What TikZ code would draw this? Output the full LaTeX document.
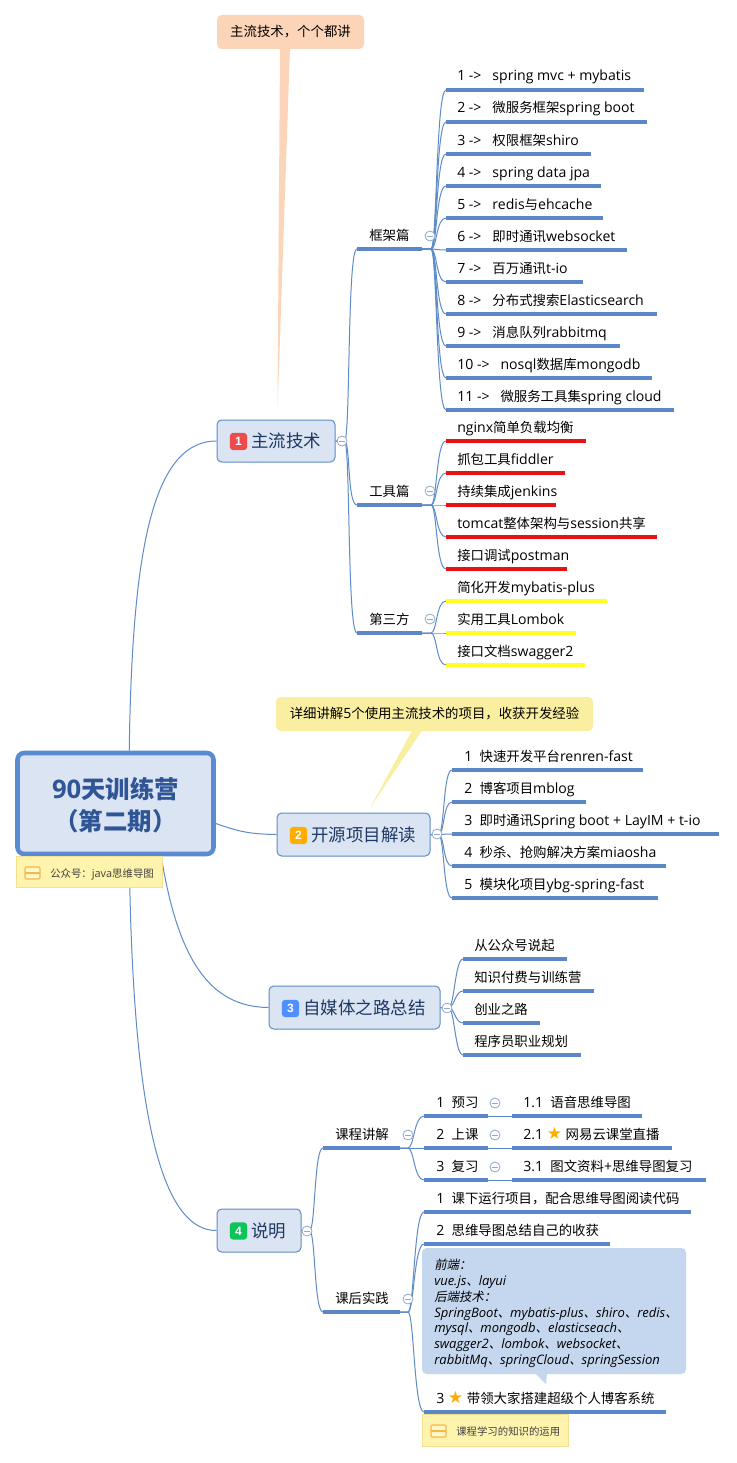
\documentclass[tikz,border=0pt]{standalone}
\usepackage{fontspec}
\usetikzlibrary{calc}
\setmainfont{Open Sans}[Scale=1.05]
\newfontfamily\cjkf{Noto Sans CJK SC}
\newfontfamily\slantcjk[FakeSlant=0.2]{Noto Sans CJK SC}
\newfontfamily\symf{DejaVu Sans}
\newfontfamily\numf{Liberation Sans}
\let\cjkcur\cjkf
% automatic switch to the CJK font for CJK characters (4095 is the boundary class)
\XeTeXinterchartokenstate=1
\newXeTeXintercharclass\cjkclass
\newcount\cjkcnt
\cjkcnt="4E00 \loop \XeTeXcharclass\cjkcnt=\cjkclass \advance\cjkcnt 1 \ifnum\cjkcnt<"A000 \repeat
\cjkcnt="3000 \loop \XeTeXcharclass\cjkcnt=\cjkclass \advance\cjkcnt 1 \ifnum\cjkcnt<"3040 \repeat
\cjkcnt="FF00 \loop \XeTeXcharclass\cjkcnt=\cjkclass \advance\cjkcnt 1 \ifnum\cjkcnt<"FFF0 \repeat
\XeTeXinterchartoks 0 \cjkclass = {\cjkcur}
\XeTeXinterchartoks 4095 \cjkclass = {\cjkcur}
\XeTeXinterchartoks \cjkclass 0 = {\rmfamily}
\XeTeXinterchartoks 4095 0 = {\rmfamily}
\newcommand\starmark{{\XeTeXinterchartokenstate=0 \color{staror}\symf\fontsize{12.8pt}{12pt}\selectfont ★}}
\newcommand\iconfont{\XeTeXinterchartokenstate=0 \numf\bfseries\fontsize{9pt}{10pt}\selectfont}
\newcommand\ag{\hspace*{8.2pt}}
\definecolor{ulblue}{HTML}{5B87C6}
\definecolor{connblue}{HTML}{5F8BC8}
\definecolor{boxfill}{HTML}{DAE4F2}
\definecolor{rootedge}{HTML}{5A8AD2}
\definecolor{rootink}{HTML}{2F5597}
\definecolor{topicink}{HTML}{1F3864}
\definecolor{peach}{HTML}{FCD5B8}
\definecolor{lemon}{HTML}{FAEEA0}
\definecolor{notefill}{HTML}{FFF4AE}
\definecolor{noteedge}{HTML}{F5E08F}
\definecolor{noteicon}{HTML}{F7B84B}
\definecolor{bubble}{HTML}{C5D7EE}
\definecolor{ulred}{HTML}{E81212}
\definecolor{ulyellow}{HTML}{FFFF24}
\definecolor{staror}{HTML}{FFAE00}
\definecolor{ccedge}{HTML}{8FA9CC}
\definecolor{iconred}{HTML}{EE4C4C}
\definecolor{iconblue}{HTML}{4F8FFF}
\definecolor{icongreen}{HTML}{0BC45A}
\pgfdeclarelayer{bg}
\pgfsetlayers{bg,main}
\tikzset{
  x=0.75pt,y=-0.75pt,
  conn/.style={draw=connblue,line width=0.75pt},
  ul/.style={line width=2.3pt},
  leaftxt/.style={inner sep=0pt,anchor=base west,font=\fontsize{10.05pt}{12pt}\selectfont,text=black},
  dims/.style 2 args={minimum width=#1*0.75pt,minimum height=#2*0.75pt,inner sep=0pt},
  topic/.style={draw=connblue,fill=boxfill,rounded corners=3.5pt,line width=0.75pt},
  toptxt/.style={inner sep=0pt,anchor=base west,font=\fontsize{13.1pt}{15pt}\selectfont,text=topicink},
  roottxt/.style={inner sep=0pt,text=rootink,font=\bfseries\fontsize{18.3pt}{24pt}\selectfont},
  icon/.style={minimum width=12.8pt,minimum height=12.8pt,inner sep=0pt,rounded corners=2.2pt,text=white,font=\iconfont},
  cc/.style={circle,draw=ccedge,fill=white,line width=0.6pt,minimum size=7.5pt,inner sep=0pt},
  note/.style={fill=notefill,draw=noteedge,line width=0.6pt},
  notetxt/.style={inner sep=0pt,anchor=base west,font=\fontsize{7.8pt}{9pt}\selectfont,text=black!75},
  callout/.style={rounded corners=3.5pt,inner sep=0pt},
  calltxt/.style={font=\fontsize{10.05pt}{12pt}\selectfont,text=black},
  bubtxt/.style={inner sep=0pt,anchor=base west,font=\let\cjkcur\slantcjk\itshape\fontsize{9.3pt}{12pt}\selectfont,text=black},
}
% name, xstart, xend, yunderline, colour, xtext, text
\newcommand\leaf[7]{%
  \coordinate (#1-s) at (#2,#4);
  \coordinate (#1-e) at (#3,#4);
  \node[leaftxt] (#1) at (#6,#4-9) {#7};
  \draw[ul,#5] (#1-s) -- (#1-e);
}
% parent, child, bus distance from parent, bus distance from child
\newcommand\br[4]{\begin{pgfonlayer}{bg}\draw[conn] (#1) -- ($(#1)+(#3-5,0)$) .. controls ($(#1)+(#3+1,0)$) and ($(#2)+(-#4,0)$) .. (#2);\end{pgfonlayer}}
\newcommand\stline[2]{\begin{pgfonlayer}{bg}\draw[conn] (#1) -- (#2);\end{pgfonlayer}}
\newcommand\collapse[3]{%
  \node[cc] (#1) at (#2,#3) {};
  \draw[draw=ccedge,line width=0.6pt] ($(#1)+(-3,0)$) -- ($(#1)+(3,0)$);
}
\newcommand\noteicon[2]{%
  \draw[noteicon,line width=0.8pt,rounded corners=0.8pt,fill=notefill!70!white] (#1,#2) rectangle ++(15,12);
  \draw[noteicon,line width=0.8pt] (#1,#2+6) -- ++(15,0);
}
\begin{document}
\begin{tikzpicture}
\useasboundingbox (0,0) rectangle (737,1463);
\begin{pgfonlayer}{bg}
\fill[white] (0,0) rectangle (737,1463);
\end{pgfonlayer}

% ---- root
\node[draw=rootedge,fill=boxfill,line width=3.4pt,rounded corners=5pt,dims={196}{101}] (root) at (115.5,803.5) {};
\node[roottxt] (rootl1) at (115.5,789) {90天训练营};
\node[roottxt] (rootl2) at (115.5,821) {（第二期）};
\node[note,dims={146}{31}] (rootnote) at (89,871.5) {};
\noteicon{25}{867}
\node[notetxt] (rootnotet) at (50,877) {公众号：java思维导图};

% ---- topic 1
\node[topic,dims={118}{42}] (t1) at (276,441) {};
\node[icon,fill=iconred] (i1) at (238.5,441.5) {1};
\node[toptxt] (t1t) at (251,447.5) {主流技术};
\collapse{c1}{342}{441}
\leaf{fw}{357}{422}{249}{ulblue}{369}{框架篇}
\leaf{tl}{357}{422}{505}{ulblue}{369}{工具篇}
\leaf{tp}{357}{422}{633}{ulblue}{369}{第三方}
\collapse{cfw}{430}{236}
\collapse{ctl}{430}{491}
\collapse{ctp}{430}{619}
\foreach \a in {fw,tl,tp}{\br{t1.east}{\a-s}{14}{10}}

\leaf{a1}{446}{644}{90}{ulblue}{457}{1 ->\ag spring mvc + mybatis}
\leaf{a2}{446}{647}{122}{ulblue}{457}{2 ->\ag 微服务框架spring boot}
\leaf{a3}{446}{591}{154}{ulblue}{457}{3 ->\ag 权限框架shiro}
\leaf{a4}{446}{601}{186}{ulblue}{457}{4 ->\ag spring data jpa}
\leaf{a5}{446}{603}{218}{ulblue}{457}{5 ->\ag redis与ehcache}
\leaf{a6}{446}{627}{250}{ulblue}{457}{6 ->\ag 即时通讯websocket}
\leaf{a7}{446}{583}{282}{ulblue}{457}{7 ->\ag 百万通讯t-io}
\leaf{a8}{446}{657}{314}{ulblue}{457}{8 ->\ag 分布式搜索Elasticsearch}
\leaf{a9}{446}{620}{346}{ulblue}{457}{9 ->\ag 消息队列rabbitmq}
\leaf{a10}{446}{652}{378}{ulblue}{457}{10 ->\ag nosql数据库mongodb}
\leaf{a11}{446}{674}{410}{ulblue}{457}{11 ->\ag 微服务工具集spring cloud}
\foreach \a in {a1,a2,a3,a4,a5,a6,a7,a8,a9,a10,a11}{\br{fw-e}{\a-s}{14}{10}}

\leaf{b1}{446}{586}{441}{ulred}{457}{nginx简单负载均衡}
\leaf{b2}{446}{565}{473}{ulred}{457}{抓包工具fiddler}
\leaf{b3}{446}{556}{505}{ulred}{457}{持续集成jenkins}
\leaf{b4}{446}{657}{537}{ulred}{457}{tomcat整体架构与session共享}
\leaf{b5}{446}{567}{569}{ulred}{457}{接口调试postman}
\foreach \a in {b1,b2,b3,b4,b5}{\br{tl-e}{\a-s}{14}{10}}

\leaf{d1}{446}{607}{601}{ulyellow}{457}{简化开发mybatis-plus}
\leaf{d2}{446}{576}{633}{ulyellow}{457}{实用工具Lombok}
\leaf{d3}{446}{585}{665}{ulyellow}{457}{接口文档swagger2}
\foreach \a in {d1,d2,d3}{\br{tp-e}{\a-s}{14}{10}}

% ---- topic 2
\node[topic,dims={153}{43}] (t2) at (353.5,834.5) {};
\node[icon,fill=staror] (i2) at (298.5,835.5) {2};
\node[toptxt] (t2t) at (311,841) {开源项目解读};
\collapse{c2}{437}{834}
\leaf{e1}{452}{643}{770}{ulblue}{464}{1\ \ 快速开发平台renren-fast}
\leaf{e2}{452}{586}{802}{ulblue}{464}{2\ \ 博客项目mblog}
\leaf{e3}{452}{719}{834}{ulblue}{464}{3\ \ 即时通讯Spring boot\ + LayIM\ + t-io}
\leaf{e4}{452}{666}{866}{ulblue}{464}{4\ \ 秒杀、抢购解决方案miaosha}
\leaf{e5}{452}{658}{898}{ulblue}{464}{5\ \ 模块化项目ybg-spring-fast}
\foreach \a in {e1,e2,e3,e4,e5}{\br{t2.east}{\a-s}{13}{9}}

% ---- topic 3
\node[topic,dims={171}{43}] (t3) at (354.5,1007.5) {};
\node[icon,fill=iconblue] (i3) at (290.5,1008.5) {3};
\node[toptxt] (t3t) at (303,1014) {自媒体之路总结};
\collapse{c3}{447}{1008}
\leaf{f1}{463}{567}{959}{ulblue}{474}{从公众号说起}
\leaf{f2}{463}{594}{991}{ulblue}{474}{知识付费与训练营}
\leaf{f3}{463}{540}{1023}{ulblue}{474}{创业之路}
\leaf{f4}{463}{581}{1055}{ulblue}{474}{程序员职业规划}
\foreach \a in {f1,f2,f3,f4}{\br{t3.east}{\a-s}{13}{8}}

% ---- topic 4
\node[topic,dims={84}{43}] (t4) at (259,1230.5) {};
\node[icon,fill=icongreen] (i4) at (238.5,1231) {4};
\node[toptxt] (t4t) at (251,1237) {说明};
\collapse{c4}{307}{1231}
\leaf{g1}{323}{400}{1148}{ulblue}{335}{课程讲解}
\leaf{g2}{323}{400}{1312}{ulblue}{335}{课后实践}
\collapse{cg1}{408}{1135}
\collapse{cg2}{408}{1299}
\foreach \a in {g1,g2}{\br{t4.east}{\a-s}{13}{9}}

\leaf{h1}{424}{488}{1116}{ulblue}{436}{1\ \ 预习}
\leaf{h2}{424}{488}{1148}{ulblue}{436}{2\ \ 上课}
\leaf{h3}{424}{488}{1180}{ulblue}{436}{3\ \ 复习}
\collapse{ch1}{495}{1103}
\collapse{ch2}{495}{1135}
\collapse{ch3}{495}{1167}
\foreach \a in {h1,h2,h3}{\br{g1-e}{\a-s}{13}{10}}
\leaf{k1}{512}{642}{1116}{ulblue}{523}{1.1\ \ 语音思维导图}
\leaf{k2}{512}{672}{1148}{ulblue}{523}{2.1 \starmark{} 网易云课堂直播}
\leaf{k3}{512}{706}{1180}{ulblue}{523}{3.1\ \ 图文资料+思维导图复习}
\stline{h1-e}{k1-s}
\stline{h2-e}{k2-s}
\stline{h3-e}{k3-s}

\leaf{m1}{424}{691}{1212}{ulblue}{436}{1\ \ 课下运行项目，配合思维导图阅读代码}
\leaf{m2}{424}{610}{1244}{ulblue}{436}{2\ \ 思维导图总结自己的收获}
\leaf{m3}{424}{666}{1412}{ulblue}{436}{3 \starmark{} 带领大家搭建超级个人博客系统}
\foreach \a in {m1,m2,m3}{\br{g2-e}{\a-s}{13}{10}}

% ---- bubble
\node[fill=bubble,callout,dims={264}{126}] (bub) at (554,1311) {};
\fill[bubble] (535,1373) -- (547,1373) -- (546,1384) -- cycle;
\node[bubtxt] (bl1) at (434,1269) {前端：};
\node[bubtxt] (bl2) at (434,1285) {vue.js、layui};
\node[bubtxt] (bl3) at (434,1301) {后端技术：};
\node[bubtxt] (bl4) at (434,1317) {SpringBoot、mybatis-plus、shiro、redis、};
\node[bubtxt] (bl5) at (434,1332) {mysql、mongodb、elasticseach、};
\node[bubtxt] (bl6) at (434,1348) {swagger2、lombok、websocket、};
\node[bubtxt] (bl7) at (434,1364) {rabbitMq、springCloud、springSession};

\node[note,dims={146}{32}] (m3note) at (495,1430) {};
\noteicon{431}{1425}
\node[notetxt] (m3notet) at (456,1435) {课程学习的知识的运用};

% ---- callouts
\node[fill=peach,callout,dims={147}{34}] (call1) at (290.5,32) {};
\node[calltxt] (call1t) at (290.5,32) {主流技术，个个都讲};
\coordinate (tip1) at (277.5,411);
\begin{pgfonlayer}{bg}
\fill[peach] ($(call1.south)+(-10.5,-2)$) -- ($(call1.south)+(-0.5,-2)$) -- (tip1) -- cycle;
\end{pgfonlayer}
\node[fill=lemon,callout,dims={317}{34}] (call2) at (434.5,714) {};
\node[calltxt] (call2t) at (434.5,714) {详细讲解5个使用主流技术的项目，收获开发经验};
\coordinate (tip2) at (370,808);
\begin{pgfonlayer}{bg}
\fill[lemon] (413,729) -- (423,729) -- (tip2) -- cycle;
\end{pgfonlayer}

% ---- root connectors
\begin{pgfonlayer}{bg}
\draw[conn] ($(root.north west)+(114,0)$) .. controls (132,560) and (150,441) .. (t1.west);
\draw[conn] ($(root.east)+(0,20)$) .. controls (240,832) and (250,834) .. (t2.west);
\draw[conn] ($(root.south west)+(146,0)$) .. controls (178,960) and (210,1007) .. (t3.west);
\draw[conn] ($(root.south west)+(114,0)$) .. controls (132,1060) and (150,1231) .. (t4.west);
\end{pgfonlayer}
\end{tikzpicture}
\end{document}
